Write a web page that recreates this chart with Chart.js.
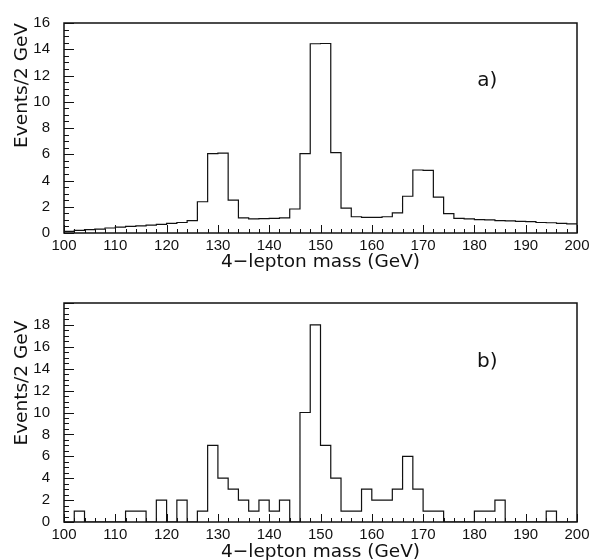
<!DOCTYPE html>
<html>
<head>
<meta charset="utf-8">
<script src="https://cdn.jsdelivr.net/npm/chart.js@4.4.1/dist/chart.umd.min.js"></script>
<style>
  html, body { margin: 0; padding: 0; background: #fff; }
  canvas { display: block; }
</style>
</head>
<body>
<canvas id="topChart" width="601" height="280"></canvas>
<canvas id="bottomChart" width="601" height="280"></canvas>
<script>
// histogram binning: 50 bins of 2 GeV from 100 to 200
const binStart = 100;
const binWidth = 2;
const xTicks = [100, 110, 120, 130, 140, 150, 160, 170, 180, 190, 200];

// a) expected signal + background (events / 2 GeV)
const expected = [
    0.12, 0.2, 0.26, 0.3, 0.38, 0.45, 0.5, 0.55, 0.6, 0.66,
    0.74, 0.8, 0.95, 2.38, 6.05, 6.08, 2.5, 1.16, 1.07, 1.1,
    1.12, 1.16, 1.83, 6.05, 14.42, 14.44, 6.13, 1.9, 1.24, 1.19,
    1.19, 1.24, 1.54, 2.8, 4.8, 4.77, 2.73, 1.47, 1.12, 1.07,
    1.02, 1.0, 0.95, 0.93, 0.88, 0.86, 0.8, 0.78, 0.74, 0.69
];

// b) simulated events (events / 2 GeV)
const observed = [
    0, 1, 0, 0, 0, 0, 1, 1, 0, 2,
    0, 2, 0, 1, 7, 4, 3, 2, 1, 2,
    1, 2, 0, 10, 18, 7, 4, 1, 1, 3,
    2, 2, 3, 6, 3, 1, 1, 0, 0, 0,
    1, 1, 2, 0, 0, 0, 0, 1, 0, 0
];

const tickFont = "'Liberation Sans', Arial, sans-serif";
const titleFont = "'DejaVu Sans', sans-serif";
const ink = "#111";

function stepPoints(values) {
    const pts = values.map((v, i) => ({ x: binStart + i * binWidth, y: v }));
    pts.push({ x: binStart + values.length * binWidth, y: values[values.length - 1] });
    return pts;
}

// frame, inward tick marks and the panel label
const framePlugin = {
    id: "frame",
    afterDraw(chart, args, opts) {
        const { ctx, chartArea: a, scales: { x, y } } = chart;
        ctx.save();
        ctx.strokeStyle = ink;
        ctx.lineWidth = 1;
        ctx.beginPath();
        for (let v = x.min; v <= x.max + 1e-6; v += opts.xMinor) {
            const px = Math.round(x.getPixelForValue(v)) + 0.5;
            const len = Math.abs(v % opts.xMajor) < 1e-6 ? 8 : 4;
            ctx.moveTo(px, a.bottom);
            ctx.lineTo(px, a.bottom - len);
        }
        for (let v = y.min; v <= y.max + 1e-6; v += opts.yMinor) {
            const py = Math.round(y.getPixelForValue(v)) + 0.5;
            const len = Math.abs(v % opts.yMajor) < 1e-6 ? 10 : 5;
            ctx.moveTo(a.left, py);
            ctx.lineTo(a.left + len, py);
        }
        ctx.stroke();

        ctx.lineWidth = 1.5;
        ctx.strokeRect(a.left, a.top, a.right - a.left, a.bottom - a.top);

        ctx.fillStyle = ink;
        ctx.font = "20px " + titleFont;
        ctx.textAlign = "center";
        ctx.textBaseline = "middle";
        ctx.fillText(opts.label, x.getPixelForValue(opts.labelX), y.getPixelForValue(opts.labelY));
        ctx.restore();
    }
};

function makeChart(id, values, yMax, padTop, xHeight, titleShift, yTitle, label, labelY) {
    return new Chart(document.getElementById(id), {
        type: "line",
        data: {
            datasets: [{
                data: stepPoints(values),
                stepped: true,
                borderColor: ink,
                borderWidth: 1.2,
                pointRadius: 0,
                fill: false
            }]
        },
        options: {
            responsive: false,
            animation: false,
            layout: { padding: { top: padTop, right: 24, left: 0, bottom: 0 } },
            plugins: {
                legend: { display: false },
                tooltip: { enabled: false },
                frame: { xMinor: 2, xMajor: 10, yMinor: 0.5, yMajor: 2, label, labelX: 182.5, labelY }
            },
            scales: {
                x: {
                    type: "linear",
                    min: 100,
                    max: 200,
                    afterFit: s => { s.height = xHeight; },
                    afterBuildTicks: s => { s.ticks = xTicks.map(v => ({ value: v })); },
                    border: { display: false },
                    grid: { display: false, drawTicks: false },
                    ticks: {
                        maxRotation: 0,
                        autoSkip: false,
                        padding: 4,
                        color: ink,
                        font: { family: tickFont, size: 15 }
                    },
                    title: {
                        display: true,
                        text: "4\u2212lepton mass (GeV)",
                        color: ink,
                        font: { family: titleFont, size: 18.5 },
                        padding: { top: 0, bottom: titleShift }
                    }
                },
                y: {
                    min: 0,
                    max: yMax,
                    afterFit: s => { s.width = 64; },
                    border: { display: false },
                    grid: { display: false, drawTicks: false },
                    ticks: {
                        stepSize: 2,
                        padding: 14,
                        color: ink,
                        font: { family: tickFont, size: 15 },
                        callback: v => (v > 18 && yMax > 16) ? "" : v
                    },
                    title: {
                        display: true,
                        text: yTitle,
                        align: "end",
                        color: ink,
                        font: { family: titleFont, size: 18.5 },
                        padding: { top: 11, bottom: 0 }
                    }
                }
            }
        },
        plugins: [framePlugin]
    });
}

makeChart("topChart", expected, 16, 8, 47, 6.6, "Events/2 GeV", "a)", 11.6);
makeChart("bottomChart", observed, 20, 17, 38, -3.4, "Events/2 GeV   ", "b)", 14.6);
</script>
</body>
</html>
